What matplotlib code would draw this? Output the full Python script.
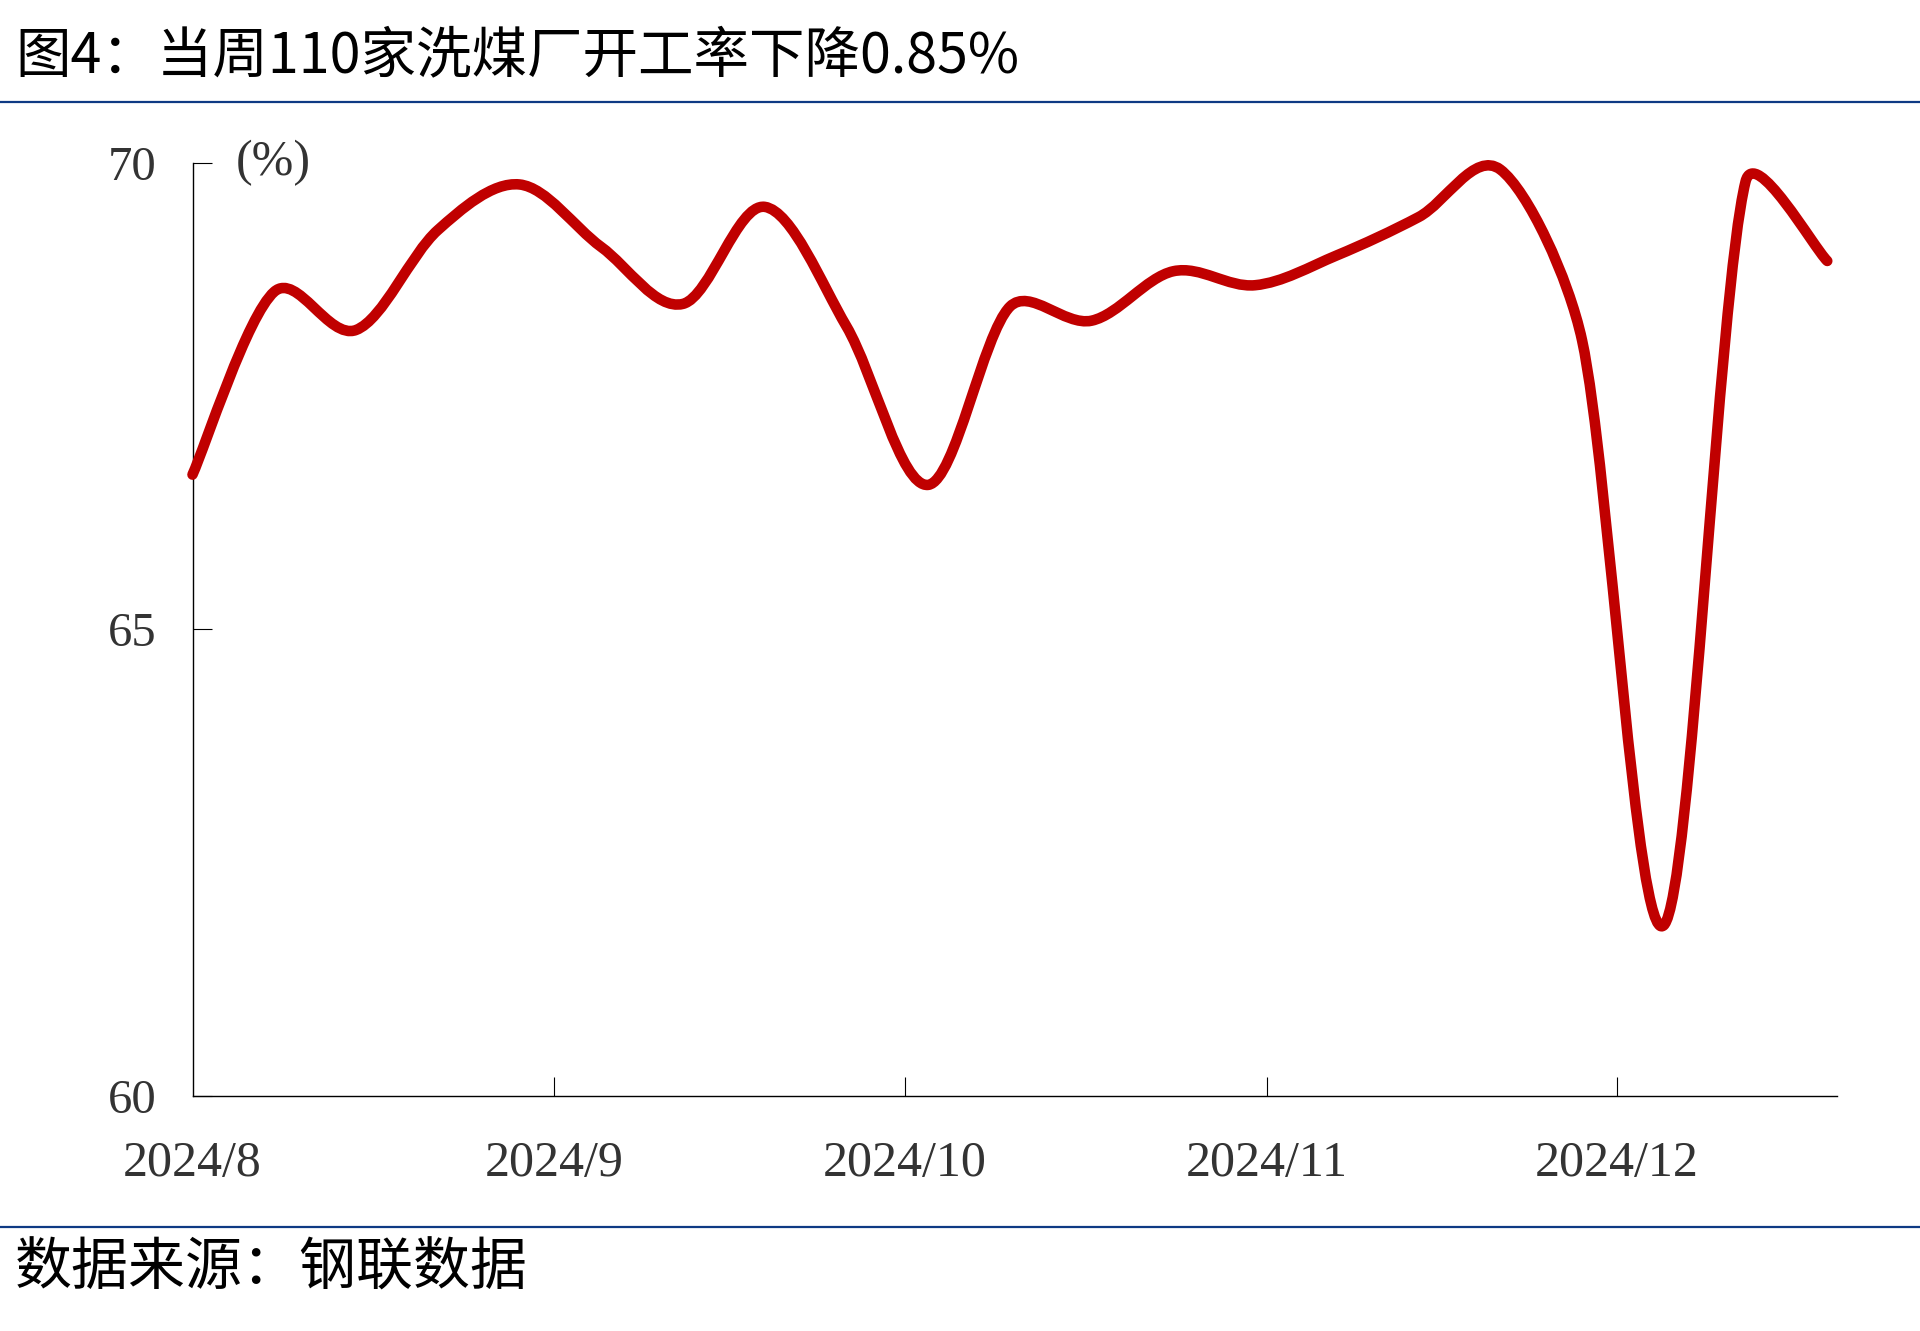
import matplotlib
matplotlib.use("Agg")
import matplotlib.pyplot as plt
import matplotlib.dates as mdates
from matplotlib.path import Path
from matplotlib.patches import PathPatch
from matplotlib.lines import Line2D
import numpy as np
import datetime as dt

# ---------------- data ----------------
dates = ["2024-08-01", "2024-08-08", "2024-08-15", "2024-08-22", "2024-08-29",
         "2024-09-05", "2024-09-12", "2024-09-19", "2024-09-26", "2024-10-03",
         "2024-10-10", "2024-10-17", "2024-10-24", "2024-10-31", "2024-11-07",
         "2024-11-14", "2024-11-21", "2024-11-28", "2024-12-05", "2024-12-12",
         "2024-12-19"]
rate = [66.66, 68.62, 68.21, 69.28, 69.77,
        69.10, 68.49, 69.53, 68.25, 66.55,
        68.46, 68.31, 68.84, 68.69, 69.01,
        69.42, 69.93, 68.10, 61.83, 69.80,
        68.95]
tick_months = ["2024-08-01", "2024-09-01", "2024-10-01", "2024-11-01", "2024-12-01"]
tick_labels = ["2024/8", "2024/9", "2024/10", "2024/11", "2024/12"]
y_ticks = [60, 65, 70]
title = "图4：当周110家洗煤厂开工率下降0.85%"
source = "数据来源：钢联数据"
unit = "(%)"

# ---------------- style ----------------
plt.rcParams['font.family'] = ['Noto Sans CJK SC', 'DejaVu Sans']
RED = "#C00000"
BLUE = "#0E3A84"
SERIF = ['Liberation Serif', 'DejaVu Serif']

W, H = 1920, 1331
fig = plt.figure(figsize=(W / 100, H / 100), dpi=100)

ax = fig.add_axes([192.5 / W, 1 - 1096 / H, (1837 - 192.5) / W, (1096 - 163) / H])

x0 = mdates.date2num(dt.datetime(2024, 8, 1))
x1 = mdates.date2num(dt.datetime(2024, 12, 19, 20))
ax.set_xlim(x0, x1)
ax.set_ylim(60, 70)

x = mdates.date2num([dt.datetime.strptime(d, "%Y-%m-%d") for d in dates])
y = np.array(rate)

# smoothed line through the data points (Catmull-Rom Bezier, like a spreadsheet
# "smoothed line"), with control handles capped to limit overshoot
fig.canvas.draw()
pts = ax.transData.transform(np.column_stack([x, y]))
n = len(pts)
verts_disp = [pts[0]]
codes = [Path.MOVETO]
CAP = 0.34
for i in range(n - 1):
    p0 = pts[max(i - 1, 0)]
    p1 = pts[i]
    p2 = pts[i + 1]
    p3 = pts[min(i + 2, n - 1)]
    seg = np.hypot(*(p2 - p1))
    h1 = (p2 - p0) / 6.0
    h2 = (p3 - p1) / 6.0
    l1, l2 = np.hypot(*h1), np.hypot(*h2)
    if l1 > CAP * seg:
        h1 = h1 * CAP * seg / l1
    if l2 > CAP * seg:
        h2 = h2 * CAP * seg / l2
    verts_disp += [p1 + h1, p2 - h2, p2]
    codes += [Path.CURVE4] * 3
verts = ax.transData.inverted().transform(np.array(verts_disp))
patch = PathPatch(Path(verts, codes), facecolor='none', edgecolor=RED, lw=7.6,
                  capstyle='round', joinstyle='round', clip_on=False, zorder=3)
ax.add_patch(patch)

tick_x = mdates.date2num([dt.datetime.strptime(d, "%Y-%m-%d") for d in tick_months])
ax.set_xticks(tick_x)
ax.set_xticklabels(tick_labels)
ax.set_yticks(y_ticks)
ax.set_yticklabels([str(v) for v in y_ticks])

for s in ['top', 'right']:
    ax.spines[s].set_visible(False)
for s in ['left', 'bottom']:
    ax.spines[s].set_linewidth(1.0)
    ax.spines[s].set_color('black')

ax.tick_params(axis='x', direction='in', length=14, width=0.8, pad=32,
               labelsize=36, labelcolor='#333333')
ax.tick_params(axis='y', direction='in', length=14, width=0.8, pad=26,
               labelsize=35, labelcolor='#333333')
for lab in ax.get_xticklabels() + ax.get_yticklabels():
    lab.set_family(SERIF)
ax.xaxis.get_major_ticks()[0].tick1line.set_visible(False)

ax.text(0.0265, 1.0, unit, transform=ax.transAxes, ha='left', va='center',
        fontsize=36, color='#333333', family=SERIF)

# title and source
fig.text(15 / W, 1 - 57 / H, title, ha='left', va='center', fontsize=40, color='black')
fig.text(15 / W, 1 - 1268 / H, source, ha='left', va='center', fontsize=41, color='black')

fig.add_artist(Line2D([0, 1], [1 - 101.5 / H, 1 - 101.5 / H], color=BLUE, lw=1.6,
                      transform=fig.transFigure))
fig.add_artist(Line2D([0, 1], [1 - 1226.5 / H, 1 - 1226.5 / H], color=BLUE, lw=1.6,
                      transform=fig.transFigure))

fig.savefig("out.png", dpi=100, facecolor='white')
